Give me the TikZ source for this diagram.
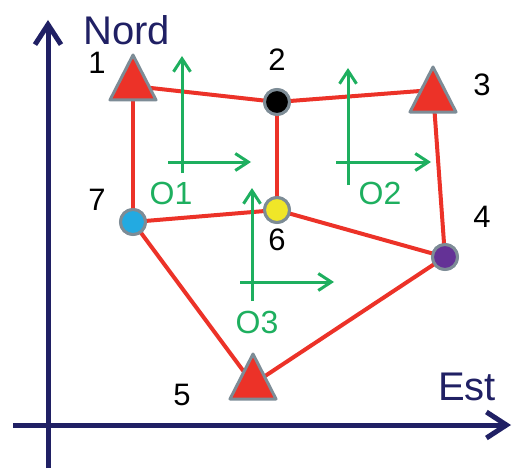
\documentclass[tikz,border=0pt]{standalone}
\usepackage{fontspec}
\setmainfont{Liberation Sans}
\usetikzlibrary{arrows.meta}
\definecolor{navy}{RGB}{32,32,100}
\definecolor{redE}{RGB}{236,50,40}
\definecolor{grayB}{RGB}{125,140,150}
\definecolor{greenO}{RGB}{30,175,95}
\definecolor{yellowN}{RGB}{240,230,40}
\definecolor{blueN}{RGB}{35,170,225}
\definecolor{purpleN}{RGB}{100,50,150}
\tikzset{
  axis/.style={navy, line width=5pt, -{Straight Barb[length=20pt,width=26pt]}},
  edge/.style={redE, line width=4pt},
  frame/.style={greenO, line width=3pt, -{Straight Barb[length=13pt,width=17pt]}},
  station/.style={circle, draw=grayB, line width=3pt, minimum size=25pt, inner sep=0pt},
  tri/.pic={\draw[grayB, fill=redE, line width=3pt, line join=round] (-23,15) -- (23,15) -- (0,-30) -- cycle;},
  lab/.style={font=\fontsize{31}{31}\selectfont, inner sep=0pt},
  olab/.style={font=\fontsize{32}{32}\selectfont, inner sep=0pt, text=greenO},
  axlab/.style={font=\fontsize{40}{40}\selectfont, inner sep=0pt, text=navy, anchor=base west}
}
\begin{document}
\begin{tikzpicture}[x=1pt,y=-1pt]
\useasboundingbox (0,0) rectangle (513,468);
% axes
\coordinate (ybot) at (48,468);
\coordinate (ytop) at (48,20);
\coordinate (xleft) at (13,425);
\coordinate (xright) at (511,425);
\draw[axis] (ybot) -- (ytop);
\draw[axis] (xleft) -- (xright);
\node[axlab] (nord) at (83,45) {Nord};
\node[axlab] (est) at (438,400) {Est};
% station positions
\coordinate (n1) at (133,86);
\coordinate (n3) at (433,90);
\coordinate (n5) at (253,384);
\node[station, fill=black] (n2) at (277,102) {};
\node[station, fill=purpleN] (n4) at (445,257) {};
\node[station, fill=yellowN] (n6) at (277,210) {};
\node[station, fill=blueN] (n7) at (133,222) {};
% edges
\begin{scope}[on background layer/.style={}]
\draw[edge] (n1) -- (n2.center);
\draw[edge] (n2.center) -- (n3);
\draw[edge] (n3) -- (n4.center);
\draw[edge] (n2.center) -- (n6.center);
\draw[edge] (n1) -- (n7.center);
\draw[edge] (n7.center) -- (n6.center);
\draw[edge] (n6.center) -- (n4.center);
\draw[edge] (n7.center) -- (n5);
\draw[edge] (n5) -- (n4.center);
\end{scope}
% green frames
\coordinate (o1v0) at (182,173); \coordinate (o1v1) at (182,56);
\coordinate (o1h0) at (168,162); \coordinate (o1h1) at (251,162);
\coordinate (o2v0) at (348,185); \coordinate (o2v1) at (348,68);
\coordinate (o2h0) at (336,162); \coordinate (o2h1) at (431,162);
\coordinate (o3v0) at (252,301); \coordinate (o3v1) at (252,188);
\coordinate (o3h0) at (240,282); \coordinate (o3h1) at (334,282);
\draw[frame] (o1v0) -- (o1v1);
\draw[frame] (o1h0) -- (o1h1);
\draw[frame] (o2v0) -- (o2v1);
\draw[frame] (o2h0) -- (o2h1);
\draw[frame] (o3v0) -- (o3v1);
\draw[frame] (o3h0) -- (o3h1);
\node[olab] (lo1) at (171,193) {O1};
\node[olab] (lo2) at (380,193) {O2};
\node[olab] (lo3) at (257,322) {O3};
% redraw stations on top
\node[station, fill=black] at (n2) {};
\node[station, fill=purpleN] at (n4) {};
\node[station, fill=yellowN] at (n6) {};
\node[station, fill=blueN] at (n7) {};
\pic at (133,85) {tri};
\pic at (433,97) {tri};
\pic at (253,384) {tri};
% labels
\node[lab] (l1) at (97,63) {1};
\node[lab] (l2) at (277,60) {2};
\node[lab] (l3) at (482,85) {3};
\node[lab] (l4) at (482,217) {4};
\node[lab] (l5) at (182,395) {5};
\node[lab] (l6) at (277,240) {6};
\node[lab] (l7) at (97,200) {7};
\end{tikzpicture}
\end{document}
